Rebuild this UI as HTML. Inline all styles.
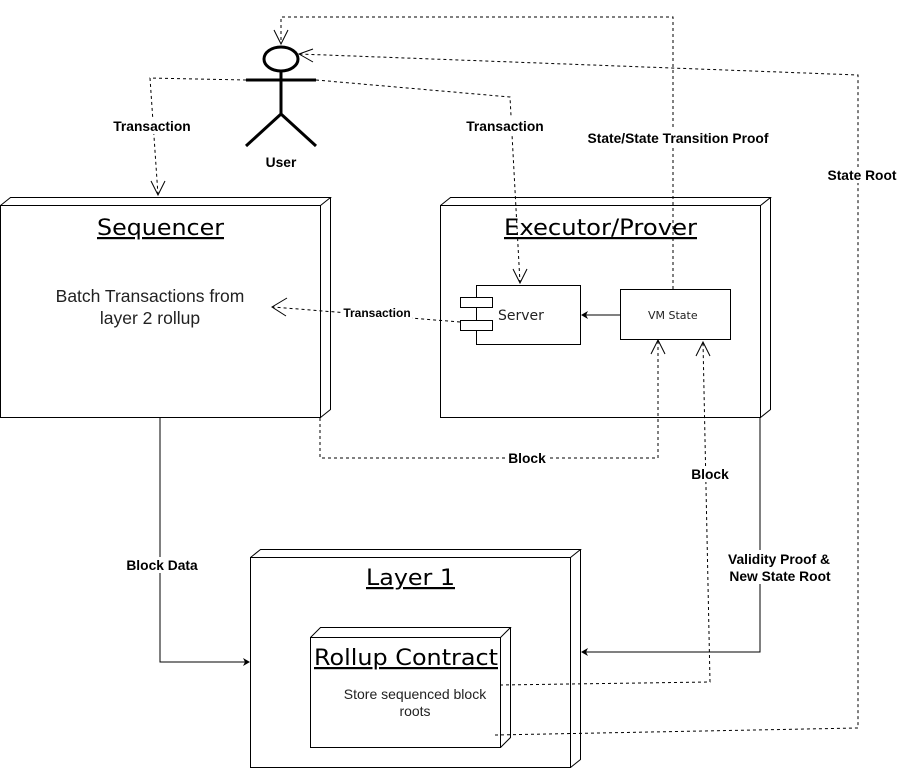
<!DOCTYPE html>
<html><head><meta charset="utf-8"><style>
html,body{margin:0;padding:0;background:#fff;}
svg{display:block;font-family:"Liberation Sans",Arial,sans-serif;}
.lb{font-size:13.8px;font-weight:bold;fill:#000;text-anchor:middle;}
.t{font-family:"DejaVu Sans",sans-serif;font-size:22px;fill:#000;text-decoration:underline;}
</style></head><body>
<svg width="897" height="768" viewBox="0 0 897 768" xmlns="http://www.w3.org/2000/svg">
<g fill="none" stroke="#000" stroke-width="1">
<rect x="0.5" y="205.5" width="320" height="212" fill="#fff"/>
<path d="M0.5 205.5 L10.5 197.5 L330.5 197.5 L320.5 205.5 M330.5 197.5 L330.5 409.5 L320.5 417.5"/>
<rect x="440.5" y="205.5" width="320" height="212" fill="#fff"/>
<path d="M440.5 205.5 L450.5 197.5 L770.5 197.5 L760.5 205.5 M770.5 197.5 L770.5 409.5 L760.5 417.5"/>
<rect x="250.5" y="557.5" width="320" height="210" fill="#fff"/>
<path d="M250.5 557.5 L260.5 549.5 L580.5 549.5 L570.5 557.5 M580.5 549.5 L580.5 759.5 L570.5 767.5"/>
<rect x="310.5" y="637.5" width="190" height="110" fill="#fff"/>
<path d="M310.5 637.5 L320.5 627.5 L510.5 627.5 L500.5 637.5 M510.5 627.5 L510.5 737.5 L500.5 747.5"/>
<rect x="476.5" y="285.5" width="104" height="59" fill="#fff"/>
<rect x="460.5" y="297.5" width="32" height="10" fill="#fff"/>
<rect x="460.5" y="320.5" width="32" height="10" fill="#fff"/>
<rect x="620.5" y="289.5" width="110" height="50" fill="#fff"/>
</g>
<g stroke="#000" stroke-width="3" fill="none">
<ellipse cx="281" cy="59" rx="17" ry="12"/>
<line x1="246" y1="80" x2="316" y2="80"/>
<line x1="281" y1="71" x2="281" y2="114"/>
<line x1="281" y1="114" x2="246" y2="146"/>
<line x1="281" y1="114" x2="316" y2="146"/>
</g>
<g fill="none" stroke="#000" stroke-width="1" stroke-dasharray="3 3">
<path d="M246 80 L150 78 L158 195"/>
<path d="M316 80 L510 97 L520 283"/>
<path d="M460 322 L273 307"/>
<path d="M673 289 L673 17 L281 17 L281 44"/>
<path d="M495 735 L858 728 L858 75 L299 54"/>
<path d="M320 418 L320 458 L658 458 L658 340"/>
<path d="M500 685 L710 682 L703 342"/>
</g>
<g fill="none" stroke="#000" stroke-width="1">
<path d="M151 181 L158 195 L165 181"/>
<path d="M513 269 L520 283 L527 269"/>
<path d="M287 298 L272 307 L286 316"/>
<path d="M274 30 L281 44 L288 30"/>
<path d="M313 49 L299 54 L313 62"/>
<path d="M651 354 L658 340 L665 354"/>
<path d="M696 356 L703 342 L710 356"/>
</g>
<g fill="none" stroke="#000" stroke-width="1">
<path d="M620 315 L584 315"/>
<path d="M160 417 L160 662 L246 662"/>
<path d="M760 417 L760 652 L585 652"/>
</g>
<g fill="#000">
<path d="M581 315 L588 311 L586 315 L588 319Z"/>
<path d="M250 662 L243 658 L245 662 L243 666Z"/>
<path d="M581 652 L588 648 L586 652 L588 656Z"/>
</g>
<g fill="#fff">
<rect x="110" y="118" width="84" height="16"/>
<rect x="463" y="118" width="84" height="16"/>
<rect x="585" y="130" width="188" height="16"/>
<rect x="825" y="167" width="74" height="16"/>
<rect x="342" y="306" width="70" height="14"/>
<rect x="505" y="450" width="44" height="16"/>
<rect x="689" y="466" width="42" height="16"/>
<rect x="124" y="557" width="77" height="16"/>
<rect x="726" y="550" width="108" height="34"/>
</g>
<g class="lb">
<text x="152" y="131">Transaction</text>
<text x="505" y="131">Transaction</text>
<text x="678" y="143">State/State Transition Proof</text>
<text x="862" y="180">State Root</text>
<text x="377" y="317" style="font-size:12px">Transaction</text>
<text x="527" y="463">Block</text>
<text x="710" y="479">Block</text>
<text x="162" y="570">Block Data</text>
<text x="779" y="564">Validity Proof &amp;</text>
<text x="780" y="581">New State Root</text>
<text x="281" y="167">User</text>
</g>
<text class="t" x="97" y="235" textLength="127" lengthAdjust="spacingAndGlyphs">Sequencer</text>
<text class="t" x="504" y="235" textLength="193" lengthAdjust="spacingAndGlyphs">Executor/Prover</text>
<text class="t" x="366" y="585" textLength="89" lengthAdjust="spacingAndGlyphs">Layer 1</text>
<text class="t" x="314" y="665" textLength="184" lengthAdjust="spacingAndGlyphs">Rollup Contract</text>
<g fill="#222" text-anchor="middle">
<text x="150" y="302" font-size="17.5">Batch Transactions from</text>
<text x="150" y="324" font-size="17.5">layer 2 rollup</text>
<text x="415" y="699" font-size="14">Store sequenced block</text>
<text x="415" y="716" font-size="14">roots</text>
</g>
<g fill="#222" font-family="DejaVu Sans, sans-serif">
<text x="498" y="320" font-size="14">Server</text>
<text x="648" y="319" font-size="11">VM State</text>
</g>
</svg>
</body></html>
